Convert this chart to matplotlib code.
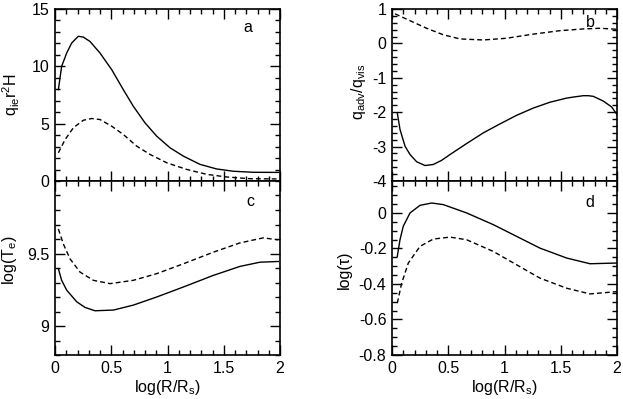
"""
Four-panel profile figure (a-d) vs log(R/Rs), solid and dashed models.
"""

import matplotlib
matplotlib.use("Agg")
import matplotlib.pyplot as plt
from matplotlib.ticker import MultipleLocator, FormatStrFormatter

plt.rcParams["font.family"] = ["Liberation Sans", "DejaVu Sans"]
plt.rcParams["font.size"] = 11.5
plt.rcParams["mathtext.default"] = "regular"
plt.rcParams["axes.unicode_minus"] = False

# ============================================================
# Data
# ============================================================
# panel a: q_ie r^2 H
a_solid_x = [0.03, 0.059, 0.104, 0.148, 0.207, 0.252, 0.311, 0.40, 0.504, 0.607,
             0.696, 0.80, 0.904, 1.022, 1.141, 1.289, 1.437, 1.585, 1.763, 1.985]
a_solid_y = [7.97, 10.0, 11.16, 12.03, 12.62, 12.55, 12.17, 11.16, 9.71, 7.97,
             6.52, 5.07, 3.91, 2.90, 2.17, 1.45, 1.05, 0.85, 0.76, 0.75]
a_dash_x = [0.03, 0.089, 0.163, 0.252, 0.326, 0.40, 0.504, 0.607, 0.726, 0.844,
            0.993, 1.17, 1.348, 1.526, 1.733, 1.985]
a_dash_y = [2.46, 3.60, 4.64, 5.30, 5.45, 5.36, 4.78, 4.06, 3.04, 2.32,
            1.59, 1.01, 0.58, 0.35, 0.20, 0.18]

# panel b: q_adv / q_vis
b_solid_x = [0.047, 0.071, 0.116, 0.16, 0.219, 0.293, 0.367, 0.441, 0.516, 0.664,
             0.812, 0.96, 1.108, 1.256, 1.404, 1.553, 1.612, 1.70, 1.745, 1.79,
             1.88, 1.953, 2.0]
b_solid_y = [-2.02, -2.50, -2.99, -3.23, -3.44, -3.55, -3.52, -3.40, -3.23, -2.91,
             -2.60, -2.34, -2.09, -1.88, -1.71, -1.59, -1.56, -1.52, -1.52, -1.54,
             -1.68, -1.85, -2.07]
b_dash_x = [0.027, 0.16, 0.308, 0.456, 0.604, 0.812, 1.019, 1.256, 1.493, 1.70,
            1.85, 2.0]
b_dash_y = [0.86, 0.66, 0.44, 0.25, 0.13, 0.10, 0.15, 0.27, 0.37, 0.42,
            0.44, 0.41]

# panel c: log(T_e)
c_solid_x = [0.03, 0.059, 0.104, 0.193, 0.267, 0.356, 0.52, 0.696, 0.904, 1.141,
             1.407, 1.644, 1.822, 1.985]
c_solid_y = [9.395, 9.315, 9.247, 9.167, 9.128, 9.105, 9.11, 9.144, 9.20, 9.269,
             9.349, 9.411, 9.44, 9.445]
c_dash_x = [0.03, 0.074, 0.133, 0.222, 0.341, 0.489, 0.696, 0.904, 1.141, 1.407,
            1.644, 1.852, 1.985]
c_dash_y = [9.669, 9.566, 9.464, 9.372, 9.315, 9.292, 9.315, 9.361, 9.429, 9.509,
            9.573, 9.608, 9.594]

# panel d: log(tau)
d_solid_x = [0.047, 0.071, 0.10, 0.16, 0.249, 0.353, 0.456, 0.664, 0.901, 1.108,
             1.315, 1.553, 1.76, 2.0]
d_solid_y = [-0.245, -0.151, -0.075, 0.0, 0.043, 0.056, 0.047, 0.0, -0.066, -0.132,
             -0.198, -0.254, -0.286, -0.282]
d_dash_x = [0.047, 0.086, 0.145, 0.249, 0.367, 0.516, 0.664, 0.901, 1.108, 1.315,
            1.553, 1.76, 2.0]
d_dash_y = [-0.508, -0.395, -0.282, -0.188, -0.147, -0.136, -0.151, -0.217, -0.292, -0.367,
            -0.424, -0.456, -0.443]

xlabel = "log(R/R$_s$)"


# ============================================================
# Plot
# ============================================================
def style_axis(ax, ylim, yminor, yticks):
    ax.set_xlim(0, 2)
    ax.set_ylim(*ylim)
    ax.xaxis.set_major_locator(MultipleLocator(0.5))
    ax.xaxis.set_minor_locator(MultipleLocator(0.1))
    ax.set_yticks(yticks)
    ax.yaxis.set_minor_locator(MultipleLocator(yminor))
    ax.xaxis.set_major_formatter(FormatStrFormatter("%g"))
    ax.yaxis.set_major_formatter(FormatStrFormatter("%g"))
    ax.tick_params(which="both", direction="in", top=True, right=True, width=1.0)
    ax.tick_params(which="major", length=7.2, pad=4)
    ax.tick_params(which="minor", length=3.6)
    for sp in ax.spines.values():
        sp.set_linewidth(1.2)


fig = plt.figure(figsize=(6.23, 3.99), dpi=100)
W, H = 623, 399


def add_ax(x0, x1, y0, y1):
    return fig.add_axes([x0 / W, 1 - y1 / H, (x1 - x0) / W, (y1 - y0) / H])


ax_a = add_ax(55, 280, 9, 181)
ax_b = add_ax(392, 617, 9, 181)
ax_c = add_ax(55, 280, 181, 355)
ax_d = add_ax(392, 617, 181, 355)

dash = (0, (3.5, 2.2))
lw = 1.0

ax_a.plot(a_solid_x, a_solid_y, "k-", lw=lw)
ax_a.plot(a_dash_x, a_dash_y, color="k", ls=dash, lw=lw)
style_axis(ax_a, (0, 15), 1, [0, 5, 10, 15])
ax_a.set_ylabel("$q_{ie}r^2H$")
ax_a.yaxis.set_label_coords(-0.145, 0.5)

ax_b.plot(b_solid_x, b_solid_y, "k-", lw=lw)
ax_b.plot(b_dash_x, b_dash_y, color="k", ls=dash, lw=lw)
style_axis(ax_b, (-4, 1), 0.2, [-4, -3, -2, -1, 0, 1])
ax_b.set_ylabel("$q_{adv}/q_{vis}$")
ax_b.yaxis.set_label_coords(-0.105, 0.52)

ax_c.plot(c_solid_x, c_solid_y, "k-", lw=lw)
ax_c.plot(c_dash_x, c_dash_y, color="k", ls=dash, lw=lw)
style_axis(ax_c, (8.8, 10), 0.1, [9, 9.5])
ax_c.set_ylabel("log(T$_e$)")
ax_c.yaxis.set_label_coords(-0.16, 0.545)
ax_c.set_xlabel(xlabel, labelpad=2)

ax_d.plot(d_solid_x, d_solid_y, "k-", lw=lw)
ax_d.plot(d_dash_x, d_dash_y, color="k", ls=dash, lw=lw)
style_axis(ax_d, (-0.8, 0.18), 0.05, [-0.8, -0.6, -0.4, -0.2, 0])
ax_d.set_ylabel("log(τ)")
ax_d.yaxis.set_label_coords(-0.18, 0.49)
ax_d.set_xlabel(xlabel, labelpad=2)

for ax in (ax_a, ax_b):
    ax.tick_params(labelbottom=False)

for ax, letter, (px, py) in [(ax_a, "a", (0.858, 0.895)), (ax_b, "b", (0.88, 0.924)),
                             (ax_c, "c", (0.867, 0.885)), (ax_d, "d", (0.88, 0.874))]:
    ax.text(px, py, letter, transform=ax.transAxes, ha="center", va="center")

fig.savefig("out.png", dpi=100)
plt.close(fig)
